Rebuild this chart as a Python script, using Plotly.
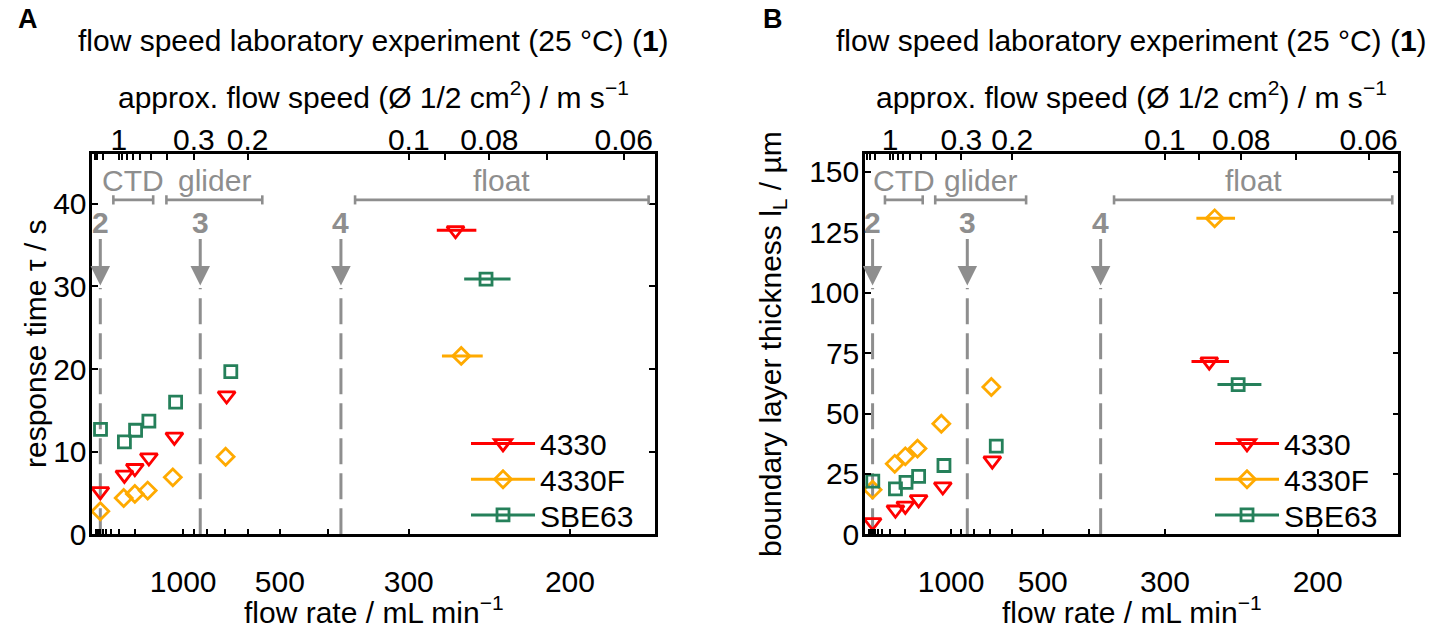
import plotly.graph_objects as go

# ---------------- data ----------------
series_names = ["4330", "4330F", "SBE63"]
# flow rate in mL/min for each measurement
flow_4330 = [7000, 2550, 2000, 1550, 1100, 690, 262]
flow_4330F = [7000, 2600, 2000, 1580, 1120, 695, 258]
flow_SBE63 = [6900, 2550, 1970, 1550, 1085, 670, 242]
# horizontal uncertainty of flow rate (mL/min)
flow_err_4330 = [0, 0, 0, 0, 0, 0, 14]
flow_err_4330F = [0, 0, 0, 0, 0, 0, 14]
flow_err_SBE63 = [0, 0, 0, 0, 0, 0, 14]
# response time tau / s
tau_4330 = [5.2, 7.2, 8.0, 9.3, 11.8, 16.8, 36.8]
tau_4330F = [2.8, 4.4, 4.9, 5.3, 6.9, 9.4, 21.6]
tau_SBE63 = [12.7, 11.2, 12.6, 13.7, 16.0, 19.7, 30.9]
# boundary layer thickness / um
bl_4330 = [5.0, 10.2, 11.8, 14.5, 19.8, 30.5, 71.5]
bl_4330F = [18.5, 29.2, 32.3, 35.5, 45.8, 61.0, 130.8]
bl_SBE63 = [22.0, 18.8, 21.5, 24.0, 28.5, 36.5, 62.0]

# reference experiments (flow rate, mL/min)
ref_labels = ["2", "3", "4"]
ref_flows = [7000, 850, 380]
# platform flow ranges (mL/min)
range_labels = ["CTD", "glider", "float"]
range_start = [3600, 1210, 360]
range_end = [1450, 550, 172]

# axis ticks
flow_ticks = [200, 300, 400, 500, 600, 700, 800, 900, 1000, 2000, 3000,
              4000, 5000, 6000, 7000, 8000, 9000, 10000]
flow_labeled = [1000, 500, 300, 200]
speed_ticks = [0.06, 0.07, 0.08, 0.09, 0.1, 0.2, 0.3, 0.4, 0.5, 0.6, 0.7,
               0.8, 0.9, 1, 2, 3, 4, 5]
speed_labeled = [1, 0.3, 0.2, 0.1, 0.08, 0.06]
speed_factor = 3000.0  # flow (mL/min) = 3000 * speed (m/s) for 1/2 cm^2

tau_ticks = [0, 10, 20, 30, 40]
bl_ticks = [0, 25, 50, 75, 100, 125, 150]

colors = {"4330": "#FF0000", "4330F": "#FFAA00", "SBE63": "#25805A"}
symbols = {"4330": "triangle-down-open", "4330F": "diamond-open",
           "SBE63": "square-open"}
msize = {"4330": 15, "4330F": 13, "SBE63": 12}
GREY = "#8E8E8E"
FONT = "Liberation Sans, Arial, Helvetica, sans-serif"
FS = 30

flows = {"4330": flow_4330, "4330F": flow_4330F, "SBE63": flow_SBE63}
errs = {"4330": flow_err_4330, "4330F": flow_err_4330F, "SBE63": flow_err_SBE63}
ydata = {
    "A": {"4330": tau_4330, "4330F": tau_4330F, "SBE63": tau_SBE63},
    "B": {"4330": bl_4330, "4330F": bl_4330F, "SBE63": bl_SBE63},
}


def inv(q):
    return 1.0 / q


def fmt(v):
    return ("%g" % v)


fig = go.Figure()

# legend placement (pixels): legend box left x per panel, row centres y
legend_left_x = {"A": 466, "B": 1210}
legend_row_y = [455, 491.7, 528.3]

panels = [
    dict(key="A", x="x", y="y", legends=["legend", "legend2", "legend3"]),
    dict(key="B", x="x2", y="y2", legends=["legend4", "legend5", "legend6"]),
]

legend_layout = {}
for p in panels:
    for name in series_names:
        q = flows[name]
        e = errs[name]
        u = [inv(v) for v in q]
        plus = [inv(v - d) - inv(v) for v, d in zip(q, e)]
        minus = [inv(v) - inv(v + d) for v, d in zip(q, e)]
        fig.add_trace(go.Scatter(
            x=u, y=ydata[p["key"]][name], mode="markers", name=name,
            xaxis=p["x"], yaxis=p["y"], showlegend=False, cliponaxis=False,
            marker=dict(symbol=symbols[name], size=msize[name],
                        color=colors[name], line=dict(width=2.8, color=colors[name])),
            error_x=dict(type="data", symmetric=False, array=plus,
                         arrayminus=minus, width=0, thickness=3,
                         color=colors[name]),
        ))
    for i, name in enumerate(series_names):
        lg = p["legends"][i]
        fig.add_trace(go.Scatter(
            x=[None], y=[None], mode="lines+markers", name=name,
            xaxis=p["x"], yaxis=p["y"], legend=lg,
            line=dict(color=colors[name], width=3),
            marker=dict(symbol=symbols[name], size=msize[name],
                        color=colors[name], line=dict(width=2.8, color=colors[name])),
        ))
        legend_layout[lg] = dict(
            x=legend_left_x[p["key"]] / 1435,
            y=1 - legend_row_y[i] / 630, xanchor="left", yanchor="middle",
            bgcolor="rgba(0,0,0,0)", itemwidth=64,
            font=dict(family=FONT, size=FS, color="black"))

shapes = []
annotations = []
for p in panels:
    xr = p["x"]
    ydom = p["y"] + " domain"
    for lab, q in zip(ref_labels, ref_flows):
        shapes.append(dict(type="line", xref=xr, yref=ydom, x0=inv(q), x1=inv(q),
                           y0=0, y1=0.648, layer="below",
                           line=dict(color=GREY, width=3, dash="26px,9px")))
        annotations.append(dict(x=inv(q), y=0.6546, xref=xr, yref=ydom, text="",
                                showarrow=True, ax=0, ay=-48, arrowhead=2,
                                arrowsize=1.3, arrowwidth=3, arrowcolor=GREY))
        annotations.append(dict(x=inv(q), y=0.821, xref=xr, yref=ydom,
                                xanchor="center", yanchor="middle",
                                text="<b>%s</b>" % lab, showarrow=False,
                                font=dict(family=FONT, size=FS, color=GREY)))
    for lab, qa, qb in zip(range_labels, range_start, range_end):
        ua, ub = inv(qa), inv(qb)
        yb = 0.880
        shapes.append(dict(type="line", xref=xr, yref=ydom, x0=ua, x1=ub,
                           y0=yb, y1=yb, line=dict(color=GREY, width=2.6)))
        for uu in (ua, ub):
            shapes.append(dict(type="line", xref=xr, yref=ydom, x0=uu, x1=uu,
                               y0=yb - 0.012, y1=yb + 0.012,
                               line=dict(color=GREY, width=2.6)))
        annotations.append(dict(x=(ua + ub) / 2, y=0.930, xref=xr, yref=ydom,
                                xanchor="center", yanchor="middle",
                                text=lab, showarrow=False,
                                font=dict(family=FONT, size=FS, color=GREY)))

# titles & labels
title_txt = "flow speed laboratory experiment (25 °C) (<b>1</b>)"
speed_txt = "approx. flow speed (Ø 1/2 cm<sup>2</sup>) / m s<sup>−1</sup>"
flow_txt = "flow rate / mL min<sup>−1</sup>"
xA = (92.3 + 655) / 2
xB = (865 + 1398.3) / 2


def ann(x, y, text, size=FS, angle=0, yanchor="middle"):
    return dict(x=x / 1435, y=1 - y / 630, xref="paper", yref="paper",
                xanchor="center", yanchor=yanchor, text=text,
                textangle=angle, showarrow=False,
                font=dict(family=FONT, size=size, color="black"))


for xc in (xA, xB):
    annotations.append(ann(xc, 42, title_txt))
    annotations.append(ann(xc, 97, speed_txt))
    annotations.append(ann(xc, 626, flow_txt))
annotations.append(ann(35, 353, "response time τ / s", angle=-90))
annotations.append(ann(772, 353, "boundary layer thickness l<sub>L</sub> / µm",
                       angle=-90))
annotations.append(ann(28, 20, "<b>A</b>", size=27))
annotations.append(ann(773, 20, "<b>B</b>", size=27))

urange = [6.0e-5, 0.00588]
flow_tv = [inv(q) for q in flow_ticks]
flow_tt = [fmt(q) if q in flow_labeled else "" for q in flow_ticks]
speed_tv = [inv(speed_factor * v) for v in speed_ticks]
speed_tt = [fmt(v) if v in speed_labeled else "" for v in speed_ticks]

common_x = dict(range=urange, tickmode="array", ticks="inside", ticklen=6,
                tickwidth=2, tickcolor="black", showgrid=False, zeroline=False,
                tickfont=dict(family=FONT, size=FS, color="black"))
bottom_x = dict(common_x, tickvals=flow_tv, ticktext=flow_tt, showline=True,
                linewidth=2.5, linecolor="black", mirror=True,
                ticklabelstandoff=19)
top_x = dict(common_x, tickvals=speed_tv, ticktext=speed_tt, side="top",
             showline=False, ticklabelstandoff=-3)
common_y = dict(ticks="inside", ticklen=6, tickwidth=2, tickcolor="black",
                showline=True, linewidth=2.5, linecolor="black", mirror="ticks",
                showgrid=False, zeroline=False, tickmode="array",
                tickfont=dict(family=FONT, size=FS, color="black"),
                ticklabelstandoff=-3)

domA = [92.3 / 1435, 655 / 1435]
domB = [865 / 1435, 1398.3 / 1435]
domY = [(630 - 548.3) / 630, (630 - 158.3) / 630]

fig.update_layout(
    width=1435, height=630, margin=dict(l=0, r=0, t=0, b=0),
    paper_bgcolor="white", plot_bgcolor="white",
    font=dict(family=FONT, size=FS, color="black"),
    xaxis=dict(bottom_x, domain=domA, anchor="y"),
    xaxis2=dict(bottom_x, domain=domB, anchor="y2"),
    xaxis3=dict(top_x, overlaying="x", anchor="y"),
    xaxis4=dict(top_x, overlaying="x2", anchor="y2"),
    yaxis=dict(common_y, domain=domY, range=[0, 46], tickvals=tau_ticks,
               anchor="x"),
    yaxis2=dict(common_y, domain=domY, range=[0, 157.3], tickvals=bl_ticks,
                anchor="x2"),
    shapes=shapes, annotations=annotations, showlegend=True,
    **legend_layout,
)

# keep the top axes drawn (need a trace on them)
fig.add_trace(go.Scatter(x=[None], y=[None], xaxis="x3", yaxis="y",
                         showlegend=False, hoverinfo="skip"))
fig.add_trace(go.Scatter(x=[None], y=[None], xaxis="x4", yaxis="y2",
                         showlegend=False, hoverinfo="skip"))

fig.write_html("out.html")
